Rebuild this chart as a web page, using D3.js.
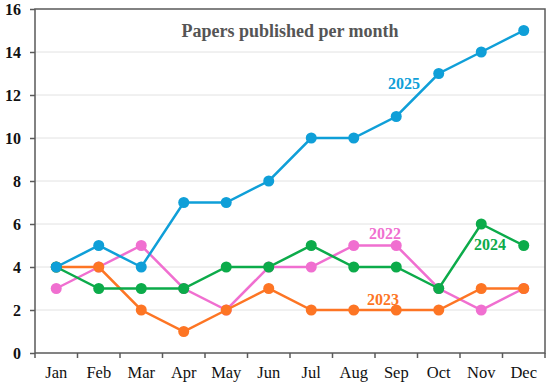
<!DOCTYPE html>
<html>
<head>
<meta charset="utf-8">
<script src="https://cdn.jsdelivr.net/npm/d3@7"></script>
<style>
  body { margin: 0; background: #fff; }
  svg text { font-family: "Liberation Serif", "DejaVu Serif", serif; }
</style>
</head>
<body>
<svg id="chart" width="550" height="390"></svg>
<script>
const months = ["Jan", "Feb", "Mar", "Apr", "May", "Jun", "Jul", "Aug", "Sep", "Oct", "Nov", "Dec"];
const y2022 = [3, 4, 5, 3, 2, 4, 4, 5, 5, 3, 2, 3];
const y2023 = [4, 4, 2, 1, 2, 3, 2, 2, 2, 2, 3, 3];
const y2024 = [4, 3, 3, 3, 4, 4, 5, 4, 4, 3, 6, 5];
const y2025 = [4, 5, 4, 7, 7, 8, 10, 10, 11, 13, 14, 15];
const yTicks = [0, 2, 4, 6, 8, 10, 12, 14, 16];

// drawn bottom to top
const series = [
  { name: "2022", values: y2022, color: "#f06fd0", lx: 385, ly: 239 },
  { name: "2023", values: y2023, color: "#fd7524", lx: 383, ly: 305 },
  { name: "2024", values: y2024, color: "#0cab4a", lx: 490, ly: 250 },
  { name: "2025", values: y2025, color: "#0f9fd8", lx: 404, ly: 89 }
];

let svg = d3.select("#chart"),
  mLeft = 35, mRight = 545, mTop = 9, mBottom = 353;

let x = d3.scaleBand().domain(months).range([mLeft, mRight]).padding(0);
let y = d3.scaleLinear().domain([0, 16]).range([mBottom, mTop]);

// gridlines
svg.append("g")
  .selectAll("line")
  .data(yTicks.slice(1, -1))
  .enter()
  .append("line")
  .attr("x1", mLeft).attr("x2", mRight)
  .attr("y1", (d) => y(d)).attr("y2", (d) => y(d))
  .attr("stroke", "#e2e2e2").attr("stroke-width", 1);

// frame
svg.append("rect")
  .attr("x", mLeft).attr("y", mTop)
  .attr("width", mRight - mLeft).attr("height", mBottom - mTop)
  .attr("fill", "none").attr("stroke", "#5a5a5a").attr("stroke-width", 1.5);

// y axis
let yAxis = svg.append("g")
  .attr("transform", "translate(" + mLeft + ",0)")
  .call(d3.axisLeft(y).tickValues(yTicks).tickSize(5).tickPadding(9));
yAxis.select(".domain").remove();
yAxis.selectAll("line").attr("stroke", "#5a5a5a").attr("stroke-width", 1.5);
yAxis.selectAll("text")
  .attr("fill", "#111").attr("font-size", "16px").attr("font-weight", "bold")
  .style("font-family", "'Liberation Serif', serif");

// x axis: ticks at band edges, labels at centers
let xg = svg.append("g");
xg.selectAll("line")
  .data(months.map((m) => x(m)).concat([mRight]))
  .enter()
  .append("line")
  .attr("x1", (d) => d).attr("x2", (d) => d)
  .attr("y1", mBottom).attr("y2", mBottom + 5)
  .attr("stroke", "#5a5a5a").attr("stroke-width", 1.5);
xg.selectAll("text")
  .data(months)
  .enter()
  .append("text")
  .attr("x", (d) => x(d) + x.bandwidth() / 2)
  .attr("y", mBottom + 25)
  .attr("text-anchor", "middle")
  .attr("font-size", "16.5px")
  .attr("fill", "#111")
  .text((d) => d);

// title
svg.append("text")
  .attr("x", 290).attr("y", 37)
  .attr("text-anchor", "middle")
  .attr("font-size", "18px").attr("font-weight", "bold")
  .attr("fill", "#555")
  .text("Papers published per month");

let line = d3.line()
  .x((d, i) => x(months[i]) + x.bandwidth() / 2)
  .y((d) => y(d));

series.forEach((s) => {
  let g = svg.append("g");
  g.append("path")
    .attr("d", line(s.values))
    .attr("fill", "none")
    .attr("stroke", s.color)
    .attr("stroke-width", 2.5);
  g.selectAll("circle")
    .data(s.values)
    .enter()
    .append("circle")
    .attr("cx", (d, i) => x(months[i]) + x.bandwidth() / 2)
    .attr("cy", (d) => y(d))
    .attr("r", 5.5)
    .attr("fill", s.color);
  g.append("text")
    .attr("x", s.lx).attr("y", s.ly)
    .attr("text-anchor", "middle")
    .attr("font-size", "16px").attr("font-weight", "bold")
    .attr("fill", s.color)
    .text(s.name);
});
</script>
</body>
</html>
